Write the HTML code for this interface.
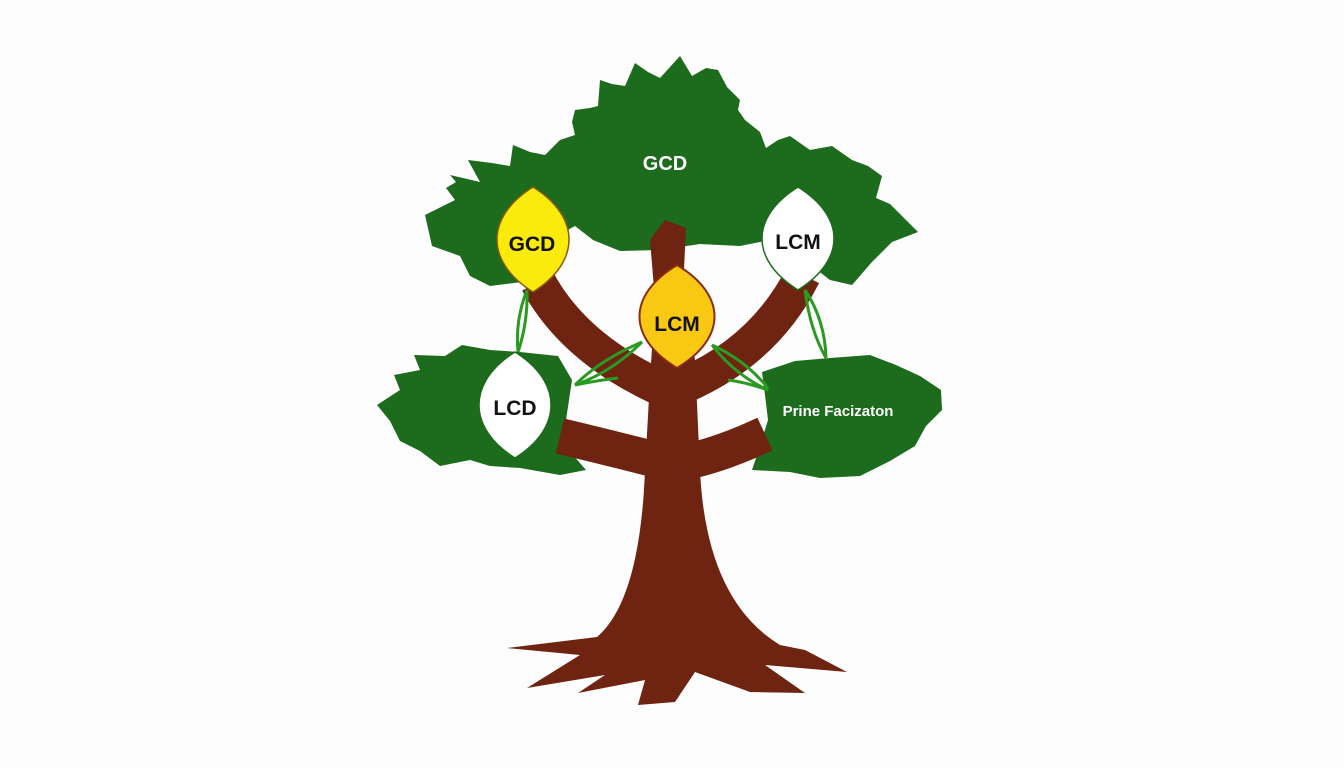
<!DOCTYPE html>
<html><head><meta charset="utf-8"><style>
html,body{margin:0;padding:0;background:#fdfdfd;}
svg{display:block}
text{font-family:"Liberation Sans",sans-serif;font-weight:bold;}
</style></head><body>
<svg width="1344" height="768" viewBox="0 0 1344 768" xmlns="http://www.w3.org/2000/svg">
<rect width="1344" height="768" fill="#fdfdfd"/>
<!-- top canopy -->
<polygon fill="#1d6b1c" points="425,215 455,200 446,188 456,182 450,175 480,182 468,160 492,163 510,166 513,145 530,152 545,155 560,140 575,135 572,122 575,110 590,108 598,106 600,80 612,84 625,86 635,63 648,72 660,78 680,56 692,76 706,68 718,70 727,87 740,100 738,110 745,120 760,132 766,148 778,140 790,136 810,150 832,146 852,160 868,166 882,176 876,198 890,204 900,214 918,232 892,242 872,262 852,285 830,280 812,266 792,248 770,240 740,246 700,244 660,250 620,251 593,240 575,226 557,236 546,262 522,282 490,286 470,276 460,256 432,246"/>
<!-- lower left leaf -->
<polygon fill="#1d6b1c" points="377,405 400,390 394,375 420,370 414,355 445,356 462,345 490,350 520,352 558,356 572,380 566,420 560,440 586,470 560,475 520,468 490,466 470,460 440,466 420,451 400,441 390,421"/>
<!-- lower right leaf -->
<polygon fill="#1d6b1c" points="762,372 795,361 830,358 870,355 896,365 920,376 941,390 942,410 926,426 915,446 890,461 860,476 820,478 790,472 752,470 760,446 768,420 765,395"/>
<!-- trunk -->
<path fill="#6e2410" d="M650,240 L665,220 L686,228 L683,290 L695,360 L700,470 Q706,600 780,645 L805,650 L847,672 L765,665 L805,693 L750,692 L695,672 L675,702 L638,705 L645,680 L578,693 L605,675 L527,688 L580,655 L507,648 L597,637 Q640,600 645,470 L650,380 L655,300 Z"/>
<g fill="none" stroke="#6e2410" stroke-linecap="butt">
<path d="M538,282 Q575,350 665,390" stroke-width="36"/>
<path d="M803,275 Q765,350 685,385" stroke-width="36"/>
<path d="M560,436 Q610,448 665,462" stroke-width="36"/>
<path d="M765,434 Q720,455 685,462" stroke-width="36"/>
</g>
<!-- vines -->
<g fill="none" stroke="#2a9a22" stroke-width="3">
<path d="M527,290 Q515,320 518,352"/><path d="M527,290 Q528,322 518,352"/>
<path d="M805,290 Q810,330 826,358"/><path d="M805,290 Q825,320 826,358"/>
<path d="M642,342 Q600,360 575,385"/><path d="M642,342 Q612,372 575,385 Q600,380 618,378"/>
<path d="M712,345 Q745,360 768,388"/><path d="M712,345 Q735,375 768,390 Q745,382 728,380"/>
</g>
<!-- badges -->
<path d="M533,187 C581,217 581,262 533,292 C485,262 485,217 533,187Z" fill="#fbeb0c" stroke="#8a5a10" stroke-width="1.5"/>
<path d="M798,187 C846,217 846,260 798,290 C750,260 750,217 798,187Z" fill="#ffffff" stroke="#1d6b1c" stroke-width="1.5"/>
<path d="M677,265 C727,295 727,338 677,368 C627,338 627,295 677,265Z" fill="#f8c812" stroke="#8a2a10" stroke-width="2"/>
<path d="M515,352 C563,382 563,428 515,458 C467,428 467,382 515,352Z" fill="#ffffff" stroke="#1d6b1c" stroke-width="1.5"/>
<!-- labels -->
<text x="665" y="170" font-size="20" fill="#ffffff" text-anchor="middle">GCD</text>
<text x="532" y="251" font-size="21" fill="#111" text-anchor="middle">GCD</text>
<text x="798" y="249" font-size="21" fill="#111" text-anchor="middle">LCM</text>
<text x="677" y="331" font-size="21" fill="#111" text-anchor="middle">LCM</text>
<text x="515" y="415" font-size="21" fill="#111" text-anchor="middle">LCD</text>
<text x="838" y="416" font-size="15" fill="#ffffff" text-anchor="middle">Prine Facizaton</text>
</svg>
</body></html>
